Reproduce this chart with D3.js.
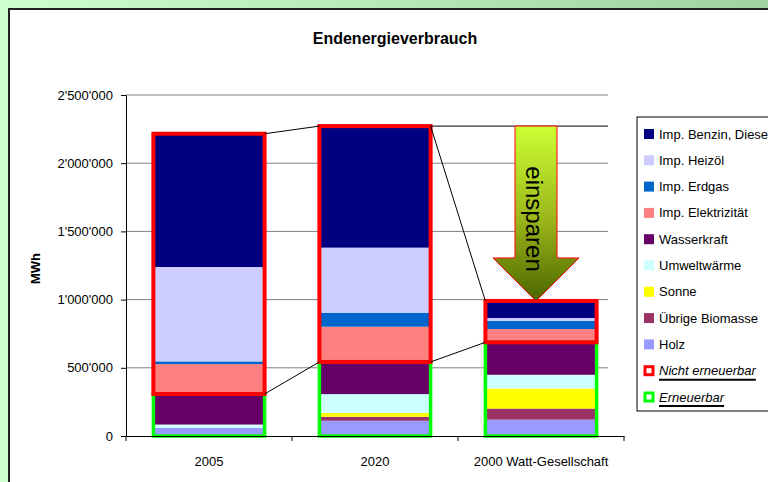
<!DOCTYPE html>
<html>
<head>
<meta charset="utf-8">
<script src="https://cdn.jsdelivr.net/npm/d3@7"></script>
<style>
body{margin:0;background:#fff;}
svg{display:block;font-family:Arial,"Liberation Sans",sans-serif;}
</style>
</head>
<body>
<div id="chart"></div>
<script>
// categories and series (MWh), stacked bottom -> top
var categories = ["2005", "2020", "2000 Watt-Gesellschaft"];
var seriesNames = ["Holz", "Übrige Biomasse", "Sonne", "Umweltwärme", "Wasserkraft",
	"Imp. Elektrizität", "Imp. Erdgas", "Imp. Heizöl", "Imp. Benzin, Diesel"];
var holz        = [60000, 112000, 120000];
var biomasse    = [0, 29000, 81000];
var sonne       = [0, 29000, 147000];
var umwelt      = [24000, 137000, 101000];
var wasserkraft = [224000, 236000, 238000];
var elektrizitaet = [219000, 258000, 97000];
var erdgas      = [20000, 103000, 61000];
var heizoel     = [692000, 477000, 20000];
var benzin      = [977000, 891000, 125000];
var renewableCount = 5; // first five series are renewable
var yTicks = [0, 500000, 1000000, 1500000, 2000000, 2500000];
var boxNames = ["Nicht erneuerbar", "Erneuerbar"];
var arrowText = "einsparen";
var titleText = "Endenergieverbrauch";
var yLabel = "MWh";

var seriesColors = ["#9999ff", "#993366", "#ffff00", "#ccffff", "#660066",
	"#ff8080", "#0066cc", "#ccccff", "#000080"];
var boxColors = ["#ff0000", "#00ff00"];

var seriesValues = [holz, biomasse, sonne, umwelt, wasserkraft, elektrizitaet, erdgas, heizoel, benzin];

var width = 768, height = 482;
var plot = {left: 126, right: 624, top: 95, bottom: 436};
var gridRight = 608; // gridlines stop short of the axis end

var svg = d3.select("#chart").append("svg")
	.attr("width", width)
	.attr("height", height);

var defs = svg.append("defs");
var bgGrad = defs.append("linearGradient").attr("id", "bgGrad")
	.attr("x1", "0%").attr("x2", "100%").attr("y1", "0%").attr("y2", "0%");
bgGrad.append("stop").attr("offset", "0%").attr("stop-color", "#ccffcc");
bgGrad.append("stop").attr("offset", "100%").attr("stop-color", "#9fd29f");
var arrowGrad = defs.append("linearGradient").attr("id", "arrowGrad")
	.attr("x1", "0%").attr("x2", "0%").attr("y1", "0%").attr("y2", "100%");
arrowGrad.append("stop").attr("offset", "0%").attr("stop-color", "#ccff33");
arrowGrad.append("stop").attr("offset", "55%").attr("stop-color", "#99b31a");
arrowGrad.append("stop").attr("offset", "100%").attr("stop-color", "#4d6600");

// background + chart area
svg.append("rect").attr("width", width).attr("height", height).attr("fill", "url(#bgGrad)");
svg.append("rect")
	.attr("x", 9).attr("y", 9)
	.attr("width", width + 10).attr("height", height + 10)
	.attr("fill", "#fff")
	.attr("stroke", "#222")
	.attr("stroke-width", 2);

var fmt = d3.formatLocale({decimal: ".", thousands: "'", grouping: [3], currency: ["", ""]}).format(",d");

var x = d3.scaleBand()
	.domain(categories)
	.range([plot.left, plot.right])
	.padding(0);
var barW = x.bandwidth() * 0.67;
var barX = function(c) { return x(c) + (x.bandwidth() - barW) / 2; };

var y = d3.scaleLinear()
	.domain([0, 2500000])
	.range([plot.bottom, plot.top]);

// stack
var table = categories.map(function(c, i) {
	var row = {cat: c};
	seriesNames.forEach(function(s, k) { row[s] = seriesValues[k][i]; });
	return row;
});
var stacked = d3.stack().keys(seriesNames)(table);
var totals = table.map(function(r) { return d3.sum(seriesNames, function(s) { return r[s]; }); });
var renew = table.map(function(r) { return d3.sum(seriesNames.slice(0, renewableCount), function(s) { return r[s]; }); });

// gridlines
svg.append("g").selectAll("line").data(yTicks.slice(1)).enter().append("line")
	.attr("x1", plot.left).attr("x2", gridRight)
	.attr("y1", function(d) { return y(d); }).attr("y2", function(d) { return y(d); })
	.attr("stroke", "#808080").attr("stroke-width", 1);

// bars
svg.append("g").selectAll("g").data(stacked).enter().append("g")
	.attr("fill", function(d, k) { return seriesColors[k]; })
	.selectAll("rect").data(function(d) { return d; }).enter().append("rect")
	.attr("x", function(d) { return barX(d.data.cat); })
	.attr("width", barW)
	.attr("y", function(d) { return y(d[1]); })
	.attr("height", function(d) { return y(d[0]) - y(d[1]); });

// renewable / non-renewable boxes
svg.append("g").selectAll("rect").data(categories).enter().append("rect")
	.attr("x", function(c) { return barX(c); })
	.attr("width", barW)
	.attr("y", function(c, i) { return y(renew[i]); })
	.attr("height", function(c, i) { return y(0) - y(renew[i]); })
	.attr("fill", "none").attr("stroke", boxColors[1]).attr("stroke-width", 3.5);
svg.append("g").selectAll("rect").data(categories).enter().append("rect")
	.attr("x", function(c) { return barX(c); })
	.attr("width", barW)
	.attr("y", function(c, i) { return y(totals[i]); })
	.attr("height", function(c, i) { return y(renew[i]) - y(totals[i]); })
	.attr("fill", "none").attr("stroke", boxColors[0]).attr("stroke-width", 4);

// connector lines between bars
var conn = svg.append("g").attr("stroke", "#000").attr("stroke-width", 1);
for (var i = 0; i < categories.length - 1; i++) {
	var xa = barX(categories[i]) + barW, xb = barX(categories[i + 1]);
	conn.append("line").attr("x1", xa).attr("x2", xb).attr("y1", y(totals[i])).attr("y2", y(totals[i + 1]));
	conn.append("line").attr("x1", xa).attr("x2", xb).attr("y1", y(renew[i])).attr("y2", y(renew[i + 1]));
}
conn.append("line")
	.attr("x1", barX(categories[1]) + barW).attr("x2", gridRight)
	.attr("y1", y(totals[1])).attr("y2", y(totals[1]));

// "einsparen" arrow
var ax = x(categories[2]) + x.bandwidth() / 2 - 5;
var aTop = y(totals[1]), aTip = y(totals[2]);
var headH = 43, shaftHalf = 21, headHalf = 43;
var arrowPath = d3.path();
arrowPath.moveTo(ax - shaftHalf, aTop);
arrowPath.lineTo(ax + shaftHalf, aTop);
arrowPath.lineTo(ax + shaftHalf, aTip - headH);
arrowPath.lineTo(ax + headHalf, aTip - headH);
arrowPath.lineTo(ax, aTip);
arrowPath.lineTo(ax - headHalf, aTip - headH);
arrowPath.lineTo(ax - shaftHalf, aTip - headH);
arrowPath.closePath();
svg.append("path").attr("d", arrowPath.toString())
	.attr("fill", "url(#arrowGrad)").attr("stroke", "#ff0000").attr("stroke-width", 1);
svg.append("text")
	.attr("transform", "translate(" + (ax - 2) + "," + ((aTop + aTip - headH) / 2 + 27) + ") rotate(90)")
	.attr("text-anchor", "middle").attr("dy", "0.35em")
	.attr("font-size", 24).attr("fill", "#000")
	.text(arrowText);

// y axis
var yAxis = svg.append("g")
	.attr("transform", "translate(" + plot.left + ",0)")
	.call(d3.axisLeft(y).tickValues(yTicks).tickSize(5).tickSizeOuter(0).tickPadding(8).tickFormat(fmt));
yAxis.selectAll("text").attr("font-size", 13).attr("fill", "#000").attr("font-family", "Arial, 'Liberation Sans', sans-serif");
yAxis.selectAll("line, path").attr("stroke", "#000");

// x axis
var xAxis = svg.append("g")
	.attr("transform", "translate(0," + plot.bottom + ")")
	.call(d3.axisBottom(x).tickSize(0).tickPadding(21).tickSizeOuter(0));
xAxis.selectAll("text").attr("font-size", 13).attr("fill", "#000").attr("font-family", "Arial, 'Liberation Sans', sans-serif");
xAxis.select("path").attr("stroke", "#000");
var bounds = categories.map(function(c) { return x(c); }).concat([plot.right]);
xAxis.selectAll(".bound").data(bounds).enter().append("line")
	.attr("x1", function(d) { return d; }).attr("x2", function(d) { return d; })
	.attr("y1", 0).attr("y2", 5).attr("stroke", "#000");

// title + axis label
svg.append("text").attr("x", 395).attr("y", 44).attr("text-anchor", "middle")
	.attr("font-size", 16).attr("font-weight", "bold").text(titleText);
svg.append("text").attr("transform", "translate(40," + ((plot.top + plot.bottom) / 2 + 3) + ") rotate(-90)")
	.attr("text-anchor", "middle").attr("font-size", 13).attr("font-weight", "bold").text(yLabel);

// legend
var lg = svg.append("g").attr("transform", "translate(637,117)");
lg.append("rect").attr("width", 200).attr("height", 294).attr("fill", "#fff").attr("stroke", "#000").attr("stroke-width", 1);
var rowH = 26.3, row0 = 17;
var legendItems = seriesNames.map(function(s, k) { return {name: s, color: seriesColors[k]}; }).reverse();
legendItems.forEach(function(d, i) {
	var ry = row0 + i * rowH;
	lg.append("rect").attr("x", 7).attr("y", ry - 5).attr("width", 10).attr("height", 10).attr("fill", d.color);
	lg.append("text").attr("x", 22).attr("y", ry).attr("dy", "0.35em").attr("font-size", 13).text(d.name);
});
boxNames.forEach(function(n, j) {
	var ry = row0 + (legendItems.length + j) * rowH;
	lg.append("rect").attr("x", 8).attr("y", ry - 4).attr("width", 8).attr("height", 8)
		.attr("fill", "#fff").attr("stroke", boxColors[j]).attr("stroke-width", 3);
	var t = lg.append("text").attr("x", 22).attr("y", ry).attr("dy", "0.35em")
		.attr("font-size", 13).attr("font-style", "italic").text(n);
	var tw = t.node().getComputedTextLength();
	lg.append("line").attr("x1", 22).attr("x2", 22 + tw).attr("y1", ry + 9).attr("y2", ry + 9)
		.attr("stroke", "#000").attr("stroke-width", 2);
});
</script>
</body>
</html>
